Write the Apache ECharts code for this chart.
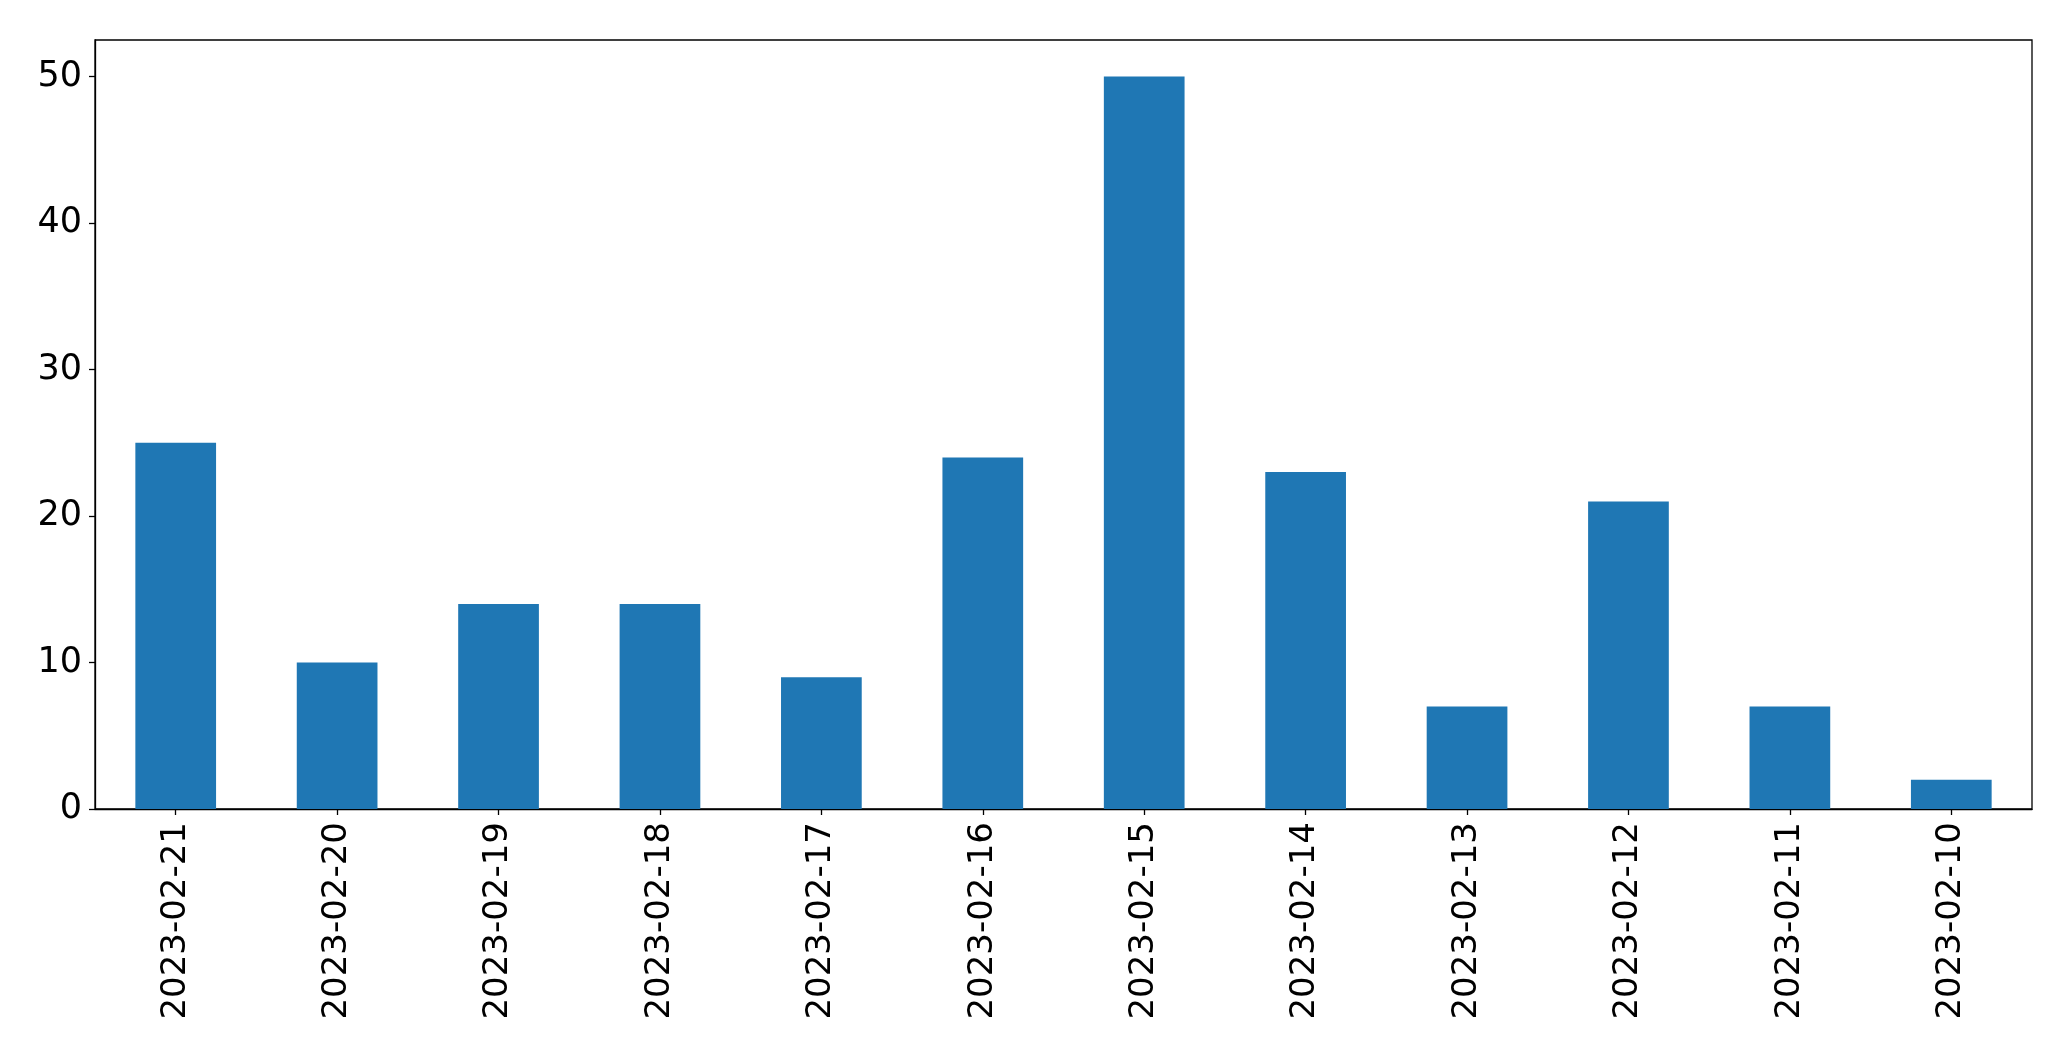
<!DOCTYPE html>
<html>
<head>
<meta charset="utf-8">
<script src="https://cdn.jsdelivr.net/npm/echarts@6/dist/echarts.min.js"></script>
<style>
html,body{margin:0;padding:0;background:#fff;}
#chart{width:2071px;height:1061px;}
</style>
</head>
<body>
<div id="chart"></div>
<script>
const categories = ["2023-02-21","2023-02-20","2023-02-19","2023-02-18","2023-02-17","2023-02-16","2023-02-15","2023-02-14","2023-02-13","2023-02-12","2023-02-11","2023-02-10"];
const values = [25, 10, 14, 14, 9, 24, 50, 23, 7, 21, 7, 2];
const yTicks = [0, 10, 20, 30, 40, 50];

const chart = echarts.init(document.getElementById('chart'), null, {renderer: 'canvas'});
const font = 'DejaVu Sans';
chart.setOption({
  animation: false,
  backgroundColor: '#fff',
  grid: {
    left: 95, right: 39, top: 40, bottom: 252,
    show: true, borderColor: '#000', borderWidth: 1.3, backgroundColor: 'transparent'
  },
  xAxis: {
    type: 'category',
    data: categories,
    boundaryGap: true,
    axisLine: {show: true, lineStyle: {color: '#000', width: 1.3}},
    axisTick: {show: true, alignWithLabel: true, length: 6, lineStyle: {color: '#000', width: 1.3}},
    axisLabel: {rotate: 90, margin: 13, color: '#000', fontFamily: font, fontSize: 34, interval: 0},
    splitLine: {show: false}
  },
  yAxis: {
    type: 'value',
    min: 0, max: 52.5,
    axisLine: {show: true, lineStyle: {color: '#000', width: 1.3}},
    axisTick: {show: true, length: 6, lineStyle: {color: '#000', width: 1.3}, customValues: yTicks},
    axisLabel: {margin: 13, color: '#000', fontFamily: font, fontSize: 35, customValues: yTicks},
    splitLine: {show: false}
  },
  series: [{
    type: 'bar',
    data: values,
    barWidth: '50%',
    itemStyle: {color: '#1f77b4'}
  }]
});
</script>
</body>
</html>
